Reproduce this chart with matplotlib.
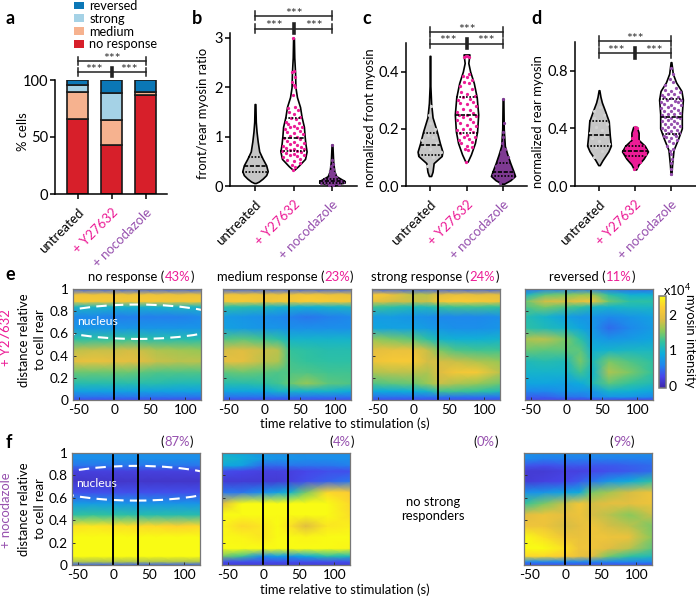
# -*- coding: utf-8 -*-
"""Myosin response figure, panels a-f"""
import numpy as np
import matplotlib
matplotlib.use("Agg")
import matplotlib.pyplot as plt
from matplotlib.colors import LinearSegmentedColormap
from matplotlib.patches import Ellipse, Patch
from matplotlib.cm import ScalarMappable
from matplotlib.colors import Normalize

plt.rcParams['font.family'] = ['Lato', 'DejaVu Sans']
plt.rcParams['font.size'] = 9.5
plt.rcParams['axes.linewidth'] = 1.1
plt.rcParams['axes.unicode_minus'] = False
plt.rcParams['mathtext.default'] = 'regular'

PINK = "#ec1c96"
PURPLE = "#9650ae"
DARK_PURPLE = "#7e3a92"
GREY = "#c6c6c6"
LABEL_SIZE = 9.4

# panel a: stacked bars
treatments = ["untreated", "+ Y27632", "+ nocodazole"]
tick_colors = ["black", PINK, PURPLE]
no_response = [66, 43, 86.5]
medium = [23.5, 22, 3]
strong = [6, 23.5, 0]
reversed_cells = [4.5, 11.5, 10.5]

# panels b-d: violin outlines, (value, half width in units of the group spacing)
b_untreated = [(0.06, 0.02), (0.09, 0.10), (0.15, 0.2), (0.22, 0.29), (0.3, 0.33), (0.42, 0.29), (0.55, 0.2),
               (0.7, 0.11), (0.9, 0.07), (1.1, 0.04), (1.3, 0.02), (1.66, 0.01)]
b_y27632 = [(0.33, 0.02), (0.4, 0.12), (0.55, 0.3), (0.7, 0.34), (0.85, 0.31), (1.0, 0.29), (1.2, 0.27), (1.4, 0.21),
            (1.6, 0.17), (1.8, 0.09), (2.0, 0.05), (2.3, 0.04), (2.6, 0.02), (3.0, 0.01)]
b_nocodazole = [(0.0, 0.02), (0.04, 0.15), (0.07, 0.33), (0.1, 0.33), (0.14, 0.24), (0.2, 0.11), (0.3, 0.06),
                (0.5, 0.03), (0.84, 0.01)]
c_untreated = [(0.035, 0.03), (0.05, 0.07), (0.08, 0.1), (0.105, 0.32), (0.12, 0.34), (0.15, 0.27), (0.19, 0.19),
               (0.24, 0.07), (0.29, 0.03), (0.35, 0.01), (0.455, 0.01)]
c_y27632 = [(0.085, 0.03), (0.11, 0.12), (0.15, 0.23), (0.19, 0.29), (0.25, 0.32), (0.31, 0.28), (0.36, 0.2),
            (0.4, 0.1), (0.43, 0.05), (0.46, 0.08)]
c_nocodazole = [(0.008, 0.03), (0.02, 0.2), (0.035, 0.33), (0.05, 0.29), (0.08, 0.2), (0.11, 0.12), (0.14, 0.05),
                (0.2, 0.02), (0.305, 0.01)]
d_untreated = [(0.145, 0.02), (0.18, 0.1), (0.24, 0.26), (0.28, 0.33), (0.35, 0.3), (0.45, 0.27), (0.52, 0.17),
               (0.58, 0.08), (0.62, 0.04), (0.665, 0.01)]
d_y27632 = [(0.115, 0.03), (0.15, 0.1), (0.19, 0.24), (0.24, 0.36), (0.28, 0.27), (0.32, 0.1), (0.37, 0.1),
            (0.41, 0.05)]
d_nocodazole = [(0.08, 0.01), (0.15, 0.03), (0.25, 0.07), (0.33, 0.2), (0.4, 0.3), (0.5, 0.3), (0.6, 0.33),
                (0.66, 0.29), (0.72, 0.14), (0.78, 0.05), (0.86, 0.01)]

# lower quartile, median, upper quartile
b_quart = [(0.29, 0.41, 0.58), (0.7, 0.97, 1.37), (0.07, 0.1, 0.14)]
c_quart = [(0.11, 0.145, 0.185), (0.187, 0.247, 0.312), (0.035, 0.05, 0.08)]
d_quart = [(0.275, 0.355, 0.45), (0.21, 0.245, 0.28), (0.36, 0.48, 0.605)]

# single cells
b_pink = [0.33, 0.38, 0.42, 0.47, 0.5, 0.52, 0.55, 0.58, 0.6, 0.62, 0.63, 0.65, 0.66, 0.68, 0.7, 0.7, 0.72, 0.74,
          0.75, 0.78, 0.8, 0.82, 0.84, 0.86, 0.88, 0.9, 0.92, 0.95, 0.97, 1.0, 1.02, 1.05, 1.08, 1.1, 1.12, 1.15,
          1.18, 1.2, 1.2, 1.22, 1.25, 1.28, 1.3, 1.35, 1.38, 1.4, 1.45, 1.5, 1.55, 1.58, 1.6, 1.85, 2.0, 2.05, 2.1,
          2.2, 2.3, 2.33, 3.0]
b_noco = [0.02, 0.03, 0.04, 0.05, 0.05, 0.06, 0.06, 0.07, 0.07, 0.08, 0.08, 0.09, 0.09, 0.1, 0.1, 0.1, 0.11, 0.11,
          0.12, 0.12, 0.13, 0.14, 0.15, 0.17, 0.19, 0.21, 0.24, 0.27, 0.3, 0.35, 0.4, 0.45, 0.52, 0.84]
c_pink = [0.085, 0.125, 0.13, 0.135, 0.14, 0.15, 0.155, 0.16, 0.165, 0.17, 0.17, 0.18, 0.185, 0.19, 0.195, 0.2, 0.2,
          0.21, 0.215, 0.22, 0.225, 0.23, 0.235, 0.24, 0.245, 0.25, 0.25, 0.255, 0.26, 0.265, 0.27, 0.28, 0.285,
          0.29, 0.295, 0.3, 0.305, 0.31, 0.315, 0.32, 0.33, 0.34, 0.35, 0.36, 0.365, 0.37, 0.38, 0.385, 0.39, 0.45,
          0.455, 0.455, 0.45]
c_noco = [0.012, 0.02, 0.025, 0.03, 0.03, 0.035, 0.04, 0.04, 0.045, 0.05, 0.05, 0.055, 0.06, 0.065, 0.07, 0.08, 0.09,
          0.1, 0.11, 0.12, 0.13, 0.15, 0.17, 0.19, 0.22, 0.305]
d_pink = [0.115, 0.13, 0.15, 0.17, 0.18, 0.19, 0.2, 0.205, 0.21, 0.215, 0.22, 0.225, 0.23, 0.235, 0.24, 0.24, 0.245,
          0.25, 0.255, 0.26, 0.26, 0.265, 0.27, 0.275, 0.28, 0.29, 0.3, 0.31, 0.33, 0.36, 0.37, 0.4, 0.41]
d_purple = [0.08, 0.12, 0.16, 0.19, 0.22, 0.24, 0.26, 0.28, 0.3, 0.31, 0.32, 0.33, 0.34, 0.35, 0.35, 0.36, 0.37,
            0.37, 0.38, 0.39, 0.39, 0.4, 0.41, 0.41, 0.42, 0.43, 0.43, 0.44, 0.45, 0.45, 0.46, 0.47, 0.47, 0.48, 0.48,
            0.49, 0.5, 0.5, 0.51, 0.52, 0.52, 0.53, 0.54, 0.54, 0.55, 0.56, 0.56, 0.57, 0.58, 0.58, 0.59, 0.6, 0.6,
            0.61, 0.62, 0.62, 0.63, 0.64, 0.64, 0.65, 0.66, 0.67, 0.68, 0.7, 0.72, 0.74, 0.78, 0.82]
d_grey = [0.2, 0.24, 0.27, 0.29, 0.31, 0.33, 0.35, 0.37, 0.39, 0.41, 0.43, 0.45, 0.47, 0.49, 0.52, 0.55]
c_grey = [0.07, 0.1, 0.11, 0.12, 0.13, 0.14, 0.15, 0.16, 0.17, 0.18, 0.2, 0.22, 0.25, 0.28]

# panels e, f: myosin intensity (x10^4), rows go from cell rear to cell front
t_cols = [-58, -30, 0, 20, 38, 60, 90, 122]
d_rows = [0, .03, .08, .15, .25, .35, .45, .55, .65, .75, .84, .89, .95, 1]
e_none = [[.3, .3, .3, .3, .3, .3, .3, .3],
          [.5, .5, .5, .5, .5, .5, .5, .5],
          [.8, .8, .8, .8, .8, .8, .8, .8],
          [1.15, 1.15, 1.15, 1.15, 1.15, 1.15, 1.1, 1.1],
          [1.45, 1.45, 1.45, 1.45, 1.4, 1.35, 1.35, 1.35],
          [1.95, 2.0, 1.95, 1.95, 1.9, 1.8, 1.75, 1.75],
          [1.75, 1.8, 1.8, 1.85, 1.8, 1.7, 1.65, 1.6],
          [1.2, 1.2, 1.25, 1.25, 1.2, 1.15, 1.15, 1.15],
          [.7, .7, .7, .7, .7, .7, .7, .7],
          [.6, .6, .55, .55, .55, .55, .55, .6],
          [1.05, 1.05, 1.0, 1.0, 1.0, 1.0, 1.05, 1.05],
          [2.15, 2.15, 2.1, 2.1, 2.15, 2.15, 2.1, 2.15],
          [2.05, 2.05, 2.05, 2.0, 2.05, 2.05, 2.0, 2.0],
          [.4, .4, .4, .4, .4, .4, .4, .4]]
e_medium = [[.3, .3, .3, .3, .3, .3, .3, .3],
            [.5, .5, .5, .5, .5, .5, .5, .5],
            [.85, .85, .85, 1.0, 1.0, 1.0, 1.0, .9],
            [1.15, 1.15, 1.2, 1.3, 1.45, 1.6, 1.4, 1.35],
            [1.4, 1.45, 1.4, 1.35, 1.35, 1.35, 1.3, 1.3],
            [1.95, 1.95, 1.75, 1.7, 1.3, 1.25, 1.2, 1.2],
            [1.85, 1.9, 1.8, 1.75, 1.25, 1.2, 1.15, 1.15],
            [1.35, 1.4, 1.3, 1.2, 1.0, 1.0, 1.0, 1.0],
            [.8, .75, .7, .7, .65, .65, .65, .65],
            [.75, .7, .65, .6, .55, .5, .55, .6],
            [1.2, 1.15, 1.1, 1.0, 1.0, .95, 1.0, 1.05],
            [2.1, 2.15, 2.05, 2.1, 2.1, 2.2, 2.15, 2.1],
            [2.05, 2.05, 2.0, 2.0, 2.05, 2.1, 2.05, 2.0],
            [.4, .4, .4, .4, .4, .4, .4, .4]]
e_strong = [[.3, .3, .3, .3, .3, .3, .3, .3],
            [.5, .5, .5, .5, .5, .5, .5, .5],
            [.9, .9, .95, 1.0, 1.3, 1.3, 1.25, 1.1],
            [1.35, 1.4, 1.45, 1.6, 1.8, 1.7, 1.6, 1.45],
            [1.7, 1.75, 1.75, 1.7, 1.9, 2.1, 2.15, 1.75],
            [2.05, 2.15, 2.15, 1.85, 1.85, 1.8, 1.7, 1.6],
            [1.95, 2.0, 2.0, 1.8, 1.5, 1.35, 1.3, 1.3],
            [1.6, 1.5, 1.4, 1.2, 1.0, .95, .95, 1.0],
            [.85, .8, .8, .75, .7, .65, .65, .7],
            [.75, .75, .7, .65, .6, .6, .6, .65],
            [1.3, 1.2, 1.1, 1.1, 1.25, 1.3, 1.3, 1.25],
            [2.0, 1.85, 1.8, 1.8, 2.1, 2.2, 2.15, 2.05],
            [2.2, 2.0, 1.75, 1.75, 1.9, 2.0, 1.95, 1.95],
            [.4, .4, .4, .4, .4, .4, .4, .4]]
e_reversed = [[.25, .25, .25, .25, .25, .25, .25, .25],
              [.4, .4, .5, .5, .6, .7, .7, .6],
              [.6, .6, .7, .7, .7, 1.0, .95, .85],
              [.85, .85, .8, .9, 1.1, 1.4, 1.25, 1.1],
              [1.0, 1.0, 1.0, 1.3, 1.0, 1.7, 1.5, 1.25],
              [1.1, 1.15, 1.1, 1.5, 1.1, 1.5, 1.35, 1.2],
              [1.45, 1.4, 1.4, 1.4, .95, 1.0, 1.05, 1.05],
              [1.7, 1.75, 1.5, 1.2, .8, .7, .75, .85],
              [1.2, 1.1, 1.0, .85, .7, .45, .6, .75],
              [1.15, 1.0, .8, .7, .7, .6, .7, .8],
              [1.35, 1.5, 1.35, 1.25, 1.05, 1.0, 1.05, 1.05],
              [1.45, 1.85, 1.85, 2.0, 2.05, 1.45, 1.2, 1.2],
              [1.0, 1.4, 1.5, 1.6, 1.6, 1.2, .95, .95],
              [.45, .55, .55, .55, .55, .5, .45, .45]]
f_none = [[.4, .4, .4, .4, .4, .4, .4, .4],
          [1.7, 1.7, 1.7, 1.7, 1.7, 1.7, 1.7, 1.7],
          [2.8, 2.8, 2.8, 2.8, 2.8, 2.8, 2.8, 2.8],
          [2.8, 2.8, 2.8, 2.8, 2.8, 2.8, 2.8, 2.8],
          [2.8, 2.8, 2.8, 2.8, 2.8, 2.8, 2.8, 2.8],
          [2.35, 2.4, 2.35, 2.35, 2.3, 2.3, 2.25, 2.3],
          [1.2, 1.25, 1.2, 1.2, 1.15, 1.15, 1.15, 1.15],
          [.75, .75, .75, .7, .7, .7, .7, .7],
          [.3, .3, .3, .3, .3, .3, .3, .3],
          [.1, .1, .1, .1, .1, .1, .1, .1],
          [.2, .2, .2, .2, .2, .2, .2, .2],
          [.5, .5, .5, .5, .5, .5, .5, .5],
          [.65, .65, .65, .65, .65, .65, .65, .65],
          [.65, .65, .65, .65, .65, .65, .65, .65]]
f_medium = [[.15, .15, .15, .15, .15, .15, .15, .15],
            [.3, .3, .3, .3, .3, .3, .3, .3],
            [1.5, 1.3, .6, .8, .7, .9, 1.2, 1.1],
            [3.0, 3.0, 3.0, 3.0, 3.0, 2.9, 2.7, 2.5],
            [2.7, 2.5, 2.4, 3.0, 2.9, 2.5, 2.55, 2.7],
            [2.5, 2.3, 2.4, 2.6, 2.35, 1.9, 2.4, 2.45],
            [3.2, 3.2, 3.2, 3.2, 3.2, 3.0, 2.6, 2.35],
            [1.9, 2.6, 3.2, 3.4, 3.4, 3.2, 2.7, 2.3],
            [.5, .5, .65, .8, 1.0, 1.5, 2.3, 2.2],
            [.15, .15, .15, .15, .2, .3, .4, .5],
            [.3, .25, .2, .2, .2, .25, .3, .3],
            [.9, .8, .45, .45, .5, .5, .5, .55],
            [1.05, .95, .75, .7, .7, .65, .65, .65],
            [.9, .85, .7, .65, .65, .65, .65, .65]]
f_reversed = [[.3, .3, .3, .3, .3, .3, .3, .3],
              [.6, .6, .6, .6, .6, .6, .6, .6],
              [2.3, 2.3, 2.2, 2.0, 1.9, 1.5, 1.25, 1.1],
              [2.85, 2.75, 2.35, 2.05, 2.05, 1.9, 1.75, 1.4],
              [2.6, 2.35, 2.05, 2.0, 2.05, 2.05, 2.0, 1.55],
              [2.05, 2.05, 1.85, 1.95, 2.05, 1.85, 1.75, 1.5],
              [1.9, 2.05, 1.95, 2.05, 1.85, 1.75, 1.55, 1.8],
              [1.25, 1.5, 1.8, 2.1, 1.85, 1.95, 1.95, 2.05],
              [.65, .7, .8, .9, 1.5, 1.65, 1.85, 2.05],
              [.15, .2, .25, .35, .5, .7, .9, 1.2],
              [.15, .15, .2, .2, .25, .3, .35, .45],
              [.35, .3, .35, .35, .35, .35, .4, .45],
              [.65, .55, .55, .55, .55, .55, .55, .55],
              [.65, .65, .65, .65, .65, .65, .65, .65]]
stim_times = [0, 35]

parula = LinearSegmentedColormap.from_list("parula", [
    (0.0, (.2422, .1504, .6603)), (.125, (.2803, .2782, .9221)), (.25, (.12, .53, .93)), (.375, (.05, .68, .86)),
    (.5, (.19, .76, .62)), (.625, (.55, .79, .35)), (.75, (.88, .74, .26)), (.875, (.99, .80, .20)),
    (1.0, (.977, .984, .08))])
norm = Normalize(-0.07, 2.55)

W, H = 696.0, 596.0
fig = plt.figure(figsize=(6.96, 5.96), dpi=100)


def axes_px(x0, y0, x1, y1):
    # axes from pixel box, y from the top
    return fig.add_axes([x0 / W, 1 - y1 / H, (x1 - x0) / W, (y1 - y0) / H])


def text_px(x, y, s, **kw):
    kw.setdefault("ha", "center")
    kw.setdefault("va", "center")
    return fig.text(x / W, 1 - y / H, s, **kw)


def sig_marks(ax, upper, lower, cap, xs=(1, 3)):
    # the two bracket rows with their stars
    x0, x1 = xs
    xm = (x0 + x1) / 2
    for y in (upper, lower):
        ax.plot([x0, x0], [y - cap, y + cap], color="#222222", lw=1.1, clip_on=False)
        ax.plot([x1, x1], [y - cap, y + cap], color="#222222", lw=1.1, clip_on=False)
        ax.plot([x0, x1], [y, y], color="#222222", lw=1.1, clip_on=False)
    ax.plot([xm, xm], [lower - cap, lower + cap], color="#222222", lw=2.6, clip_on=False)
    star = dict(ha="center", va="center", fontsize=10, color="#333333", annotation_clip=False)
    ax.annotate("***", (xm, upper), xytext=(0, 1.5), textcoords="offset points", **star)
    ax.annotate("***", ((x0 + xm) / 2 - 0.02, lower), xytext=(0, 1.5), textcoords="offset points", **star)
    ax.annotate("***", ((x1 + xm) / 2 + 0.02, lower), xytext=(0, 1.5), textcoords="offset points", **star)


def treatment_ticks(ax, ticks):
    ax.set_xticks(ticks)
    ax.set_xticklabels(treatments, rotation=45, ha="right", rotation_mode="anchor")
    for lab, col in zip(ax.get_xticklabels(), tick_colors):
        lab.set_color(col)
    ax.tick_params(axis="y", width=1.1, length=3.6, labelsize=10.5, pad=1.5)
    ax.tick_params(axis="x", width=1.1, length=3.6, labelsize=9.5, pad=5)
    ax.spines["top"].set_visible(False)
    ax.spines["right"].set_visible(False)


def violin(ax, pos, outline, quart, fill, dots=None, dot_color=None):
    vals = np.array([p[0] for p in outline])
    half = np.array([p[1] for p in outline])
    ax.fill_betweenx(vals, pos - half, pos + half, facecolor=fill, edgecolor="black", lw=1.2, zorder=2)
    if dots is not None:
        wobble = [-0.85, 0.3, -0.3, 0.85, 0.0, -0.6, 0.6]
        xs = [pos + wobble[i % 7] * np.interp(v, vals, half) for i, v in enumerate(dots)]
        ax.scatter(xs, dots, s=5.5, color=dot_color, lw=0, zorder=3, clip_on=False)
    styles = [(0, (1, 1)), (0, (2.5, 1)), (0, (1, 1))]
    for q, st in zip(quart, styles):
        w = np.interp(q, vals, half)
        ax.plot([pos - w, pos + w], [q, q], color="black", lw=1.2, ls=st, zorder=4)


# a
ax_a = axes_px(55, 80, 167, 194)
bar_x = np.array([1, 2, 3])
bottom = np.zeros(3)
stack = [(no_response, "#d71f2a", "no response"), (medium, "#f6b28f", "medium"),
         (strong, "#a5d2e6", "strong"), (reversed_cells, "#0b77b6", "reversed")]
handles = []
for vals, col, lab in stack:
    ax_a.bar(bar_x, vals, 0.62, bottom=bottom, color=col, edgecolor="#1a1a1a", lw=1.2)
    bottom = bottom + np.array(vals)
    handles.append(Patch(facecolor=col, edgecolor="none", label=lab))
ax_a.set_xlim(1 - 22.5 / 34, 3 + 21.5 / 34)
ax_a.set_ylim(0, 100)
ax_a.set_yticks([0, 50, 100])
treatment_ticks(ax_a, bar_x)
sig_marks(ax_a, 117, 107, 3.5)
fig.legend(handles=handles[::-1], loc="upper left", bbox_to_anchor=(74 / W, 1 + 0 / H), frameon=False,
           fontsize=9.2, handlelength=0.75, handleheight=0.55, labelspacing=0.06, handletextpad=0.45, borderpad=0,
           borderaxespad=0)

# b
ax_b = axes_px(230, 33, 357, 186)
ax_b.set_xlim(1 - 25 / 38.5, 3 + 25 / 38.5)
ax_b.set_ylim(0, 3.1)
ax_b.set_yticks([0, 1, 2, 3])
violin(ax_b, 1, b_untreated, b_quart[0], GREY)
violin(ax_b, 2, b_y27632, b_quart[1], "white", b_pink, PINK)
violin(ax_b, 3, b_nocodazole, b_quart[2], DARK_PURPLE, b_noco, DARK_PURPLE)
treatment_ticks(ax_b, [1, 2, 3])
sig_marks(ax_b, 3.45, 3.19, 0.09)

# c
ax_c = axes_px(406, 43, 527, 186)
ax_c.set_xlim(1 - 24 / 36.5, 3 + 24 / 36.5)
ax_c.set_ylim(0, 0.5)
ax_c.set_yticks([0, 0.2, 0.4])
ax_c.set_yticklabels(["0.0", "0.2", "0.4"])
violin(ax_c, 1, c_untreated, c_quart[0], GREY, c_grey, "#d2d2d2")
violin(ax_c, 2, c_y27632, c_quart[1], "white", c_pink, PINK)
violin(ax_c, 3, c_nocodazole, c_quart[2], DARK_PURPLE, c_noco, DARK_PURPLE)
treatment_ticks(ax_c, [1, 2, 3])
sig_marks(ax_c, 0.539, 0.498, 0.017)

# d
ax_d = axes_px(575, 42, 696, 186)
ax_d.set_xlim(1 - 24 / 36, 3 + 25 / 36)
ax_d.set_ylim(0, 1.0)
ax_d.set_yticks([0, 0.4, 0.8])
ax_d.set_yticklabels(["0.0", "0.4", "0.8"])
violin(ax_d, 1, d_untreated, d_quart[0], GREY, d_grey, "#d2d2d2")
violin(ax_d, 2, d_y27632, d_quart[1], PINK, d_pink, PINK)
violin(ax_d, 3, d_nocodazole, d_quart[2], "white", d_purple, PURPLE)
treatment_ticks(ax_d, [1, 2, 3])
sig_marks(ax_d, 1.007, 0.924, 0.034)

text_px(23, 132, "% cells", rotation=90, fontsize=LABEL_SIZE)
text_px(203, 113, "front/rear myosin ratio", rotation=90, fontsize=LABEL_SIZE)
text_px(370, 118, "normalized front myosin", rotation=90, fontsize=LABEL_SIZE)
text_px(538, 122, "normalized rear myosin", rotation=90, fontsize=LABEL_SIZE)

# letters
for x, y, s in [(10, 18, "a"), (197, 18, "b"), (367, 18, "c"), (537, 18, "d"), (10, 275, "e"), (9, 442, "f")]:
    text_px(x, y, s, fontsize=13, fontweight="bold")


def heat(x0, y0, x1, y1, z, nucleus=None, ylab=False):
    ax = axes_px(x0, y0, x1, y1)
    ax.pcolormesh(t_cols, d_rows, z, shading="gouraud", cmap=parula, norm=norm)
    for t in stim_times:
        ax.axvline(t, color="black", lw=1.4)
    ax.set_xlim(-58, 122)
    ax.set_ylim(0, 1)
    ax.set_xticks([-50, 0, 50, 100])
    ax.set_yticks([0, .2, .4, .6, .8, 1])
    ax.set_yticklabels(["0", "0.2", "0.4", "0.6", "0.8", "1"] if ylab else [])
    ax.tick_params(direction="in", length=2, width=0.7, color="#333333", labelsize=9.8, pad=3)
    for sp in ax.spines.values():
        sp.set_color("#777777")
        sp.set_linewidth(0.9)
    if nucleus is not None:
        ax.add_patch(Ellipse((32, nucleus), 250, 0.31, fill=False, edgecolor="white", lw=1.5, ls=(0, (5, 3))))
        ax.text(-52, nucleus, "nucleus", color="white", fontsize=8.8, va="center", ha="left")
    return ax


heat(73, 289, 201, 400, e_none, 0.705, True)
heat(223, 289, 351, 400, e_medium)
heat(372, 289, 500, 400, e_strong)
heat(525, 289, 653, 400, e_reversed)
heat(72, 453, 200, 565, f_none, 0.73, True)
heat(222, 453, 350, 565, f_medium)
heat(524, 453, 652, 565, f_reversed)


def two_tone(x_mid, y, head, pct, col, tail=")"):
    # title with the percentage in colour, centred on x_mid
    rend = fig.canvas.get_renderer()
    parts = [(head, "black"), (pct, col), (tail, "black")]
    items = [text_px(0, y, s, color=c, ha="left", fontsize=LABEL_SIZE) for s, c in parts]
    widths = [t.get_window_extent(rend).width for t in items]
    x = x_mid - sum(widths) / 2
    for t, w in zip(items, widths):
        t.set_position((x / W, 1 - y / H))
        x += w


two_tone(141, 277, "no response (", "43%", PINK)
two_tone(285, 277, "medium response (", "23%", PINK)
two_tone(435, 277, "strong response (", "24%", PINK)
two_tone(592, 277, "reversed (", "11%", PINK)
two_tone(177, 442, "(", "87%", PURPLE)
two_tone(342, 442, "(", "4%", PURPLE)
two_tone(486, 442, "(", "0%", PURPLE)
two_tone(622, 442, "(", "9%", PURPLE)

text_px(32, 340, "distance relative\nto cell rear", rotation=90, fontsize=LABEL_SIZE, linespacing=1.3)
text_px(32, 509, "distance relative\nto cell rear", rotation=90, fontsize=LABEL_SIZE, linespacing=1.3)
text_px(6, 338, "+ Y27632", rotation=90, color=PINK, fontsize=LABEL_SIZE)
text_px(6, 510, "+ nocodazole", rotation=90, color=PURPLE, fontsize=LABEL_SIZE)
text_px(345, 424, "time relative to stimulation (s)", fontsize=LABEL_SIZE)
text_px(345, 590, "time relative to stimulation (s)", fontsize=LABEL_SIZE)
text_px(433, 509, "no strong\nresponders", fontsize=LABEL_SIZE, linespacing=1.2)

# colour bar
cax = axes_px(659, 296, 666, 388)
cb = fig.colorbar(ScalarMappable(norm=norm, cmap=parula), cax=cax)
cb.set_ticks([0, 1, 2])
cb.ax.tick_params(length=0, labelsize=10, pad=2)
cb.outline.set_edgecolor("#777777")
text_px(677, 290, "x10$^{4}$", fontsize=9.2)
text_px(690, 341, "myosin intensity", rotation=270, fontsize=LABEL_SIZE)

fig.savefig("out.png", dpi=100)
